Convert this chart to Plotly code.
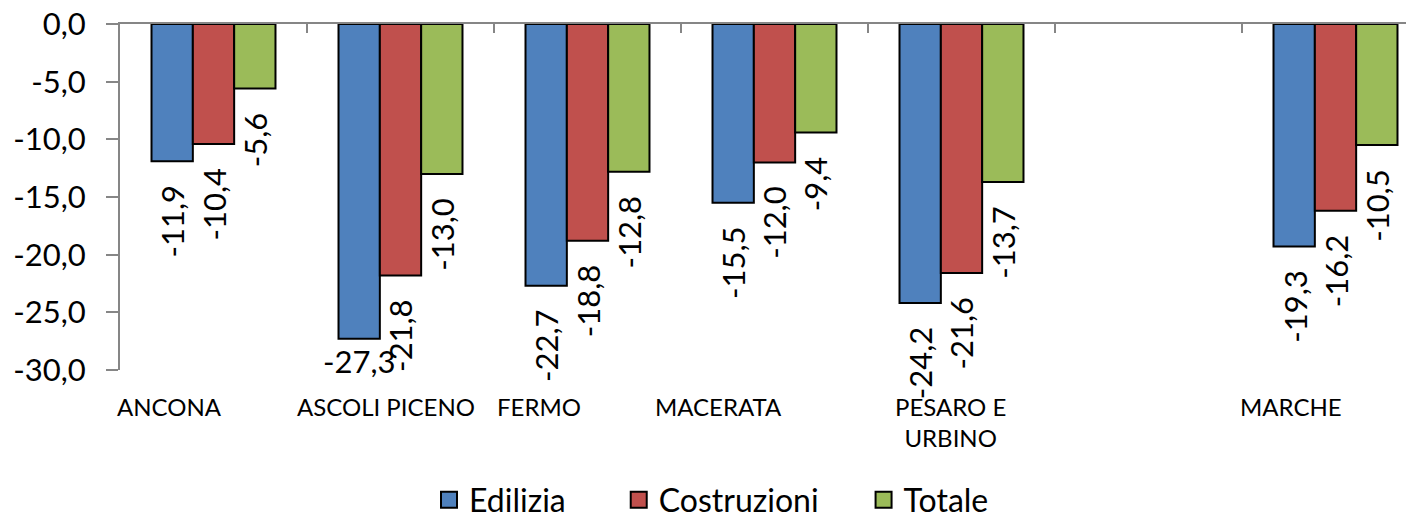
import plotly.graph_objects as go

# categories (blank slot between PESARO E URBINO and MARCHE, as in the source)
categories = ["ANCONA", "ASCOLI PICENO", "FERMO", "MACERATA",
              "PESARO E URBINO", " ", "MARCHE"]
category_labels = ["ANCONA", "ASCOLI PICENO", "FERMO", "MACERATA",
                   "PESARO E<br>URBINO", "", "MARCHE"]

edilizia = [-11.9, -27.3, -22.7, -15.5, -24.2, None, -19.3]
costruzioni = [-10.4, -21.8, -18.8, -12.0, -21.6, None, -16.2]
totale = [-5.6, -13.0, -12.8, -9.4, -13.7, None, -10.5]

y_ticks = [0, -5, -10, -15, -20, -25, -30]

series = [
    ("Edilizia", edilizia, "#4F81BD"),
    ("Costruzioni", costruzioni, "#C0504D"),
    ("Totale", totale, "#9BBB59"),
]

FONT = "Lato"
LABEL_SIZE = 31
GREY = "#868686"
BAR_PX = 41.3  # width of one bar in pixels (187px per category, bargap 0.337)
LABEL_GAP = 24  # px between bar end and rotated label


def fmt(v):
    return f"{v:.1f}".replace(".", ",")


def text_px(s, size):
    # rough Lato advance widths
    w = {"-": 0.35, ",": 0.23}
    return size * sum(w.get(c, 0.58) for c in s)


fig = go.Figure()

for name, values, color in series:
    fig.add_trace(go.Bar(
        x=categories, y=values, name=name, showlegend=False,
        marker=dict(color=color, line=dict(color="black", width=2)),
        hoverinfo="skip",
    ))

# data labels, rotated, a little below each bar end
for i, (name, values, color) in enumerate(series):
    for cat, v in zip(categories, values):
        if v is None:
            continue
        txt = fmt(v)
        if name == "Edilizia" and cat == "ASCOLI PICENO":
            # horizontal in the source, tucked under the bar
            fig.add_annotation(
                x=cat, y=v, text=txt, showarrow=False,
                xshift=(i - 1) * BAR_PX, yanchor="top", yshift=-1,
                font=dict(family=FONT, size=LABEL_SIZE, color="black"),
            )
            continue
        fig.add_annotation(
            x=cat, y=v, text=txt, showarrow=False, textangle=-90,
            xshift=(i - 1) * BAR_PX, yanchor="middle",
            yshift=-(LABEL_GAP + text_px(txt, LABEL_SIZE) / 2),
            font=dict(family=FONT, size=LABEL_SIZE, color="black"),
        )

# legend entries with bigger square swatches
legend_gap = {"Edilizia": "\u2003\u2003", "Costruzioni": "\u2003\u2002", "Totale": ""}
for name, values, color in series:
    fig.add_trace(go.Scatter(
        x=[None], y=[None], mode="markers", name=name + legend_gap[name],
        marker=dict(symbol="square", size=16, color=color,
                    line=dict(color="black", width=2)),
        hoverinfo="skip",
    ))

# category labels below the plot
label_shift = [-44, -15, -49, -56, -11, 0, -45]
for cat, lab, sh in zip(categories, category_labels, label_shift):
    if not lab:
        continue
    fig.add_annotation(
        x=cat, y=0, xref="x", yref="paper", text=lab, showarrow=False,
        xshift=sh, yshift=-20, yanchor="top", align="center",
        font=dict(family=FONT, size=24, color="black"),
    )

# page body has an 8px margin, so the figure is 16px smaller than the window
fig.update_layout(
    width=1398, height=515,
    margin=dict(l=112, r=0, t=16, b=153),
    paper_bgcolor="white", plot_bgcolor="white",
    separators=",.",
    barmode="group", bargap=0.337, bargroupgap=0,
    font=dict(family=FONT, color="black"),
    showlegend=True,
    legend=dict(
        orientation="h", xref="paper", x=0.2403, xanchor="left",
        yref="container", y=0.045, yanchor="middle",
        font=dict(family=FONT, size=32, color="black"),
        itemsizing="trace", itemwidth=30,
    ),
)

fig.update_xaxes(
    type="category", categoryorder="array", categoryarray=categories,
    range=[-0.5, 6.377], side="top", showticklabels=False, automargin=False,
    showline=True, linecolor=GREY, linewidth=2,
    ticks="inside", tickson="boundaries", ticklen=9, tickcolor=GREY, tickwidth=2,
    showgrid=False, zeroline=False,
)
fig.update_yaxes(
    range=[-30, 0], tickvals=y_ticks, ticktext=[fmt(v) for v in y_ticks],
    automargin=False, ticklabeloverflow="allow",
    showline=True, linecolor=GREY, linewidth=2,
    ticks="outside", ticklen=12, tickcolor=GREY, tickwidth=2,
    ticklabelstandoff=14,
    tickfont=dict(family=FONT, size=31, color="black"),
    showgrid=False, zeroline=False,
)

fig.write_html("out.html")
